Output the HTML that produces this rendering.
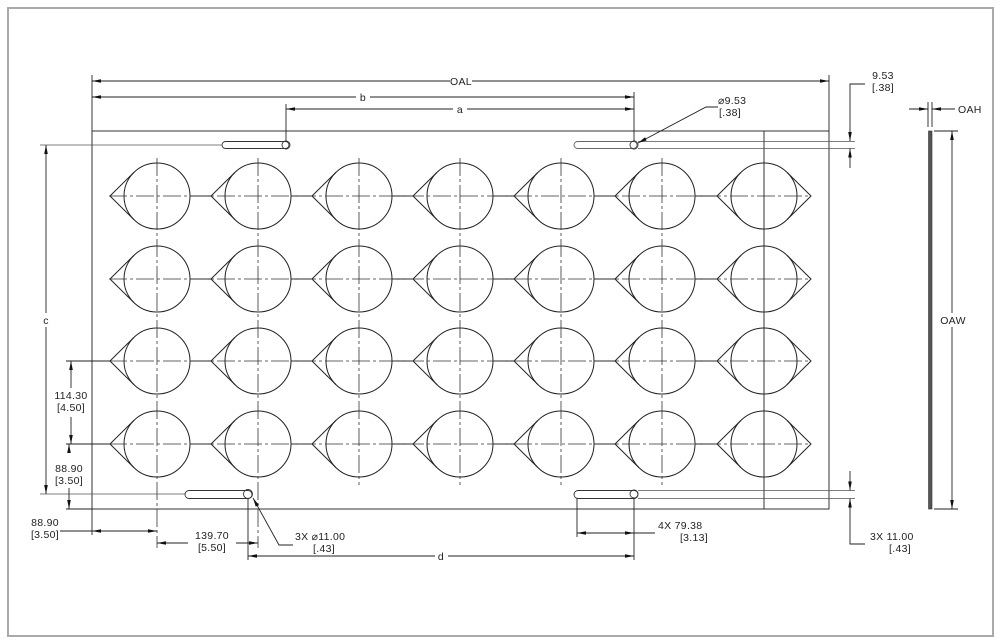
<!DOCTYPE html>
<html><head><meta charset="utf-8"><style>
html,body{margin:0;padding:0;background:#fff;}
svg{display:block;}
text{font-family:"Liberation Sans",sans-serif;font-size:10.5px;fill:#222;letter-spacing:0.3px;}
</style></head><body>
<svg width="1001" height="644" viewBox="0 0 1001 644" xmlns="http://www.w3.org/2000/svg">
<defs>
<marker id="ar" viewBox="0 0 10 4" refX="10" refY="2" markerWidth="9" markerHeight="3.6" orient="auto-start-reverse" markerUnits="userSpaceOnUse"><path d="M0,0 L10,2 L0,4 z" fill="#111"/></marker>
<g id="td" fill="none" stroke="#222" stroke-width="1">
<circle r="33"/><path d="M-23.2,-23.5 L-47,0 L-23.2,23.5"/>
</g>
<g id="td2" fill="none" stroke="#222" stroke-width="1">
<circle r="33"/><path d="M-23.2,-23.5 L-47,0 L-23.2,23.5"/><path d="M23.2,-23.5 L47,0 L23.2,23.5"/>
</g>
<g id="col"><use href="#td" y="196"/><use href="#td" y="279"/><use href="#td" y="361"/><use href="#td" y="444"/></g>
<g id="seg" stroke="#222" stroke-width="1">
<line x1="190" y1="0" x2="211" y2="0"/><line x1="291" y1="0" x2="312" y2="0"/><line x1="392" y1="0" x2="413" y2="0"/>
<line x1="493" y1="0" x2="514" y2="0"/><line x1="594" y1="0" x2="615" y2="0"/><line x1="695" y1="0" x2="717" y2="0"/>
</g>
</defs>
<rect x="8" y="8" width="985" height="628" fill="none" stroke="#aaa" stroke-width="2"/>

<rect x="92" y="131" width="737" height="378" fill="none" stroke="#333" stroke-width="1"/>
<line x1="764" y1="131" x2="764" y2="509" stroke="#333"/>

<use href="#col" x="157"/><use href="#col" x="258"/><use href="#col" x="359"/><use href="#col" x="460"/><use href="#col" x="561"/><use href="#col" x="662"/>
<use href="#td2" x="764" y="196"/><use href="#td2" x="764" y="279"/><use href="#td2" x="764" y="361"/><use href="#td2" x="764" y="444"/>
<use href="#seg" y="196"/><use href="#seg" y="279"/><use href="#seg" y="361"/><use href="#seg" y="444"/>

<g stroke="#333" stroke-width="0.8" stroke-dasharray="18,3,3,3">
<line x1="109" y1="196" x2="811" y2="196"/><line x1="109" y1="279" x2="811" y2="279"/>
<line x1="109" y1="361" x2="811" y2="361"/><line x1="109" y1="444" x2="811" y2="444"/>
<line x1="157" y1="158" x2="157" y2="548"/><line x1="258" y1="158" x2="258" y2="548"/>
<line x1="359" y1="158" x2="359" y2="485"/><line x1="460" y1="158" x2="460" y2="485"/>
<line x1="561" y1="158" x2="561" y2="485"/><line x1="662" y1="158" x2="662" y2="485"/>
</g>

<g fill="none" stroke="#333" stroke-width="0.9">
<rect x="222" y="141.5" width="67" height="7" rx="3.5"/>
<circle cx="286" cy="145" r="4"/>
<rect x="574" y="141.5" width="63" height="7" rx="3.5" stroke="#666"/>
<circle cx="634" cy="145" r="4"/>
<rect x="185" y="490.5" width="67" height="8" rx="4"/>
<circle cx="248" cy="494" r="4.5"/>
<rect x="574" y="490.5" width="64" height="8" rx="4"/>
<circle cx="634" cy="494" r="4"/>
</g>
<g stroke="#555" stroke-width="0.8">
<line x1="638" y1="141.5" x2="855" y2="141.5"/><line x1="638" y1="148.5" x2="855" y2="148.5"/>
<line x1="638" y1="490.5" x2="855" y2="490.5"/><line x1="638" y1="498.5" x2="855" y2="498.5"/>
<line x1="40" y1="145" x2="222" y2="145"/><line x1="40" y1="494" x2="185" y2="494"/>
</g>

<g stroke="#222" stroke-width="0.9" fill="none">
<line x1="92" y1="75" x2="92" y2="131"/><line x1="829" y1="75" x2="829" y2="131"/>
<line x1="634" y1="92" x2="634" y2="141"/><line x1="286" y1="104" x2="286" y2="141"/>
<line x1="92" y1="81" x2="450" y2="81" marker-start="url(#ar)"/><line x1="472" y1="81" x2="829" y2="81" marker-end="url(#ar)"/>
<line x1="92" y1="97" x2="356" y2="97" marker-start="url(#ar)"/><line x1="370" y1="97" x2="634" y2="97" marker-end="url(#ar)"/>
<line x1="286" y1="109" x2="453" y2="109" marker-start="url(#ar)"/><line x1="467" y1="109" x2="634" y2="109" marker-end="url(#ar)"/>
<line x1="46" y1="145" x2="46" y2="313" marker-start="url(#ar)"/><line x1="46" y1="327" x2="46" y2="494" marker-end="url(#ar)"/>
<line x1="66" y1="361" x2="110" y2="361"/><line x1="66" y1="444" x2="110" y2="444"/><line x1="66" y1="509" x2="92" y2="509"/>
<line x1="71" y1="361" x2="71" y2="388" marker-start="url(#ar)"/><line x1="71" y1="417" x2="71" y2="444" marker-end="url(#ar)"/>
<line x1="69" y1="444" x2="69" y2="452" marker-start="url(#ar)"/><line x1="69" y1="488" x2="69" y2="509" marker-end="url(#ar)"/>
<line x1="92" y1="509" x2="92" y2="535"/>
<line x1="60" y1="531" x2="92" y2="531"/><line x1="92" y1="531" x2="157" y2="531" marker-start="url(#ar)" marker-end="url(#ar)"/>
<line x1="248" y1="498" x2="248" y2="560"/>
<line x1="157" y1="543" x2="188" y2="543" marker-start="url(#ar)"/><line x1="236" y1="543" x2="258" y2="543" marker-end="url(#ar)"/>
<polyline points="253,498 279,545 293,545" marker-start="url(#ar)"/>
<line x1="634" y1="498" x2="634" y2="560"/>
<line x1="248" y1="556" x2="435" y2="556" marker-start="url(#ar)"/><line x1="448" y1="556" x2="634" y2="556" marker-end="url(#ar)"/>
<line x1="577" y1="498" x2="577" y2="537"/>
<line x1="577" y1="533" x2="655" y2="533" marker-start="url(#ar)"/><line x1="600" y1="533" x2="634" y2="533" marker-end="url(#ar)"/>
<polyline points="638,143 706,107 718,107" marker-start="url(#ar)"/>
<polyline points="865,84 850,84 850,141" marker-end="url(#ar)"/>
<line x1="850" y1="168" x2="850" y2="148.5" marker-end="url(#ar)"/>
<line x1="850" y1="471" x2="850" y2="490.5" marker-end="url(#ar)"/>
<polyline points="865,544 850,544 850,498.5" marker-end="url(#ar)"/>
<line x1="928" y1="102" x2="928" y2="127"/><line x1="932" y1="102" x2="932" y2="127"/>
<line x1="909" y1="109" x2="928" y2="109" marker-end="url(#ar)"/><line x1="955" y1="109" x2="932" y2="109" marker-end="url(#ar)"/>
<line x1="934" y1="131" x2="958" y2="131"/><line x1="934" y1="509" x2="958" y2="509"/>
<line x1="952" y1="131" x2="952" y2="313" marker-start="url(#ar)"/><line x1="952" y1="327" x2="952" y2="509" marker-end="url(#ar)"/>
</g>
<rect x="928.5" y="131" width="3.5" height="378" fill="#555" stroke="#333" stroke-width="0.6"/>

<text x="461" y="85" text-anchor="middle">OAL</text>
<text x="363" y="101" text-anchor="middle">b</text>
<text x="460" y="113" text-anchor="middle">a</text>
<text x="46" y="324" text-anchor="middle">c</text>
<text x="71" y="399" text-anchor="middle">114.30</text>
<text x="71" y="411" text-anchor="middle">[4.50]</text>
<text x="69" y="472" text-anchor="middle">88.90</text>
<text x="69" y="484" text-anchor="middle">[3.50]</text>
<text x="45" y="526" text-anchor="middle">88.90</text>
<text x="45" y="538" text-anchor="middle">[3.50]</text>
<text x="212" y="539" text-anchor="middle">139.70</text>
<text x="212" y="551" text-anchor="middle">[5.50]</text>
<text x="295" y="540">3X  ⌀11.00</text>
<text x="324" y="552" text-anchor="middle">[.43]</text>
<text x="441" y="560" text-anchor="middle">d</text>
<text x="658" y="529">4X  79.38</text>
<text x="694" y="541" text-anchor="middle">[3.13]</text>
<text x="718" y="104">⌀9.53</text>
<text x="730" y="116" text-anchor="middle">[.38]</text>
<text x="883" y="79" text-anchor="middle">9.53</text>
<text x="883" y="91" text-anchor="middle">[.38]</text>
<text x="870" y="540">3X  11.00</text>
<text x="900" y="552" text-anchor="middle">[.43]</text>
<text x="958" y="113">OAH</text>
<rect x="940" y="313" width="26" height="13" fill="#fff"/>
<text x="953" y="324" text-anchor="middle">OAW</text>
</svg>
</body></html>
